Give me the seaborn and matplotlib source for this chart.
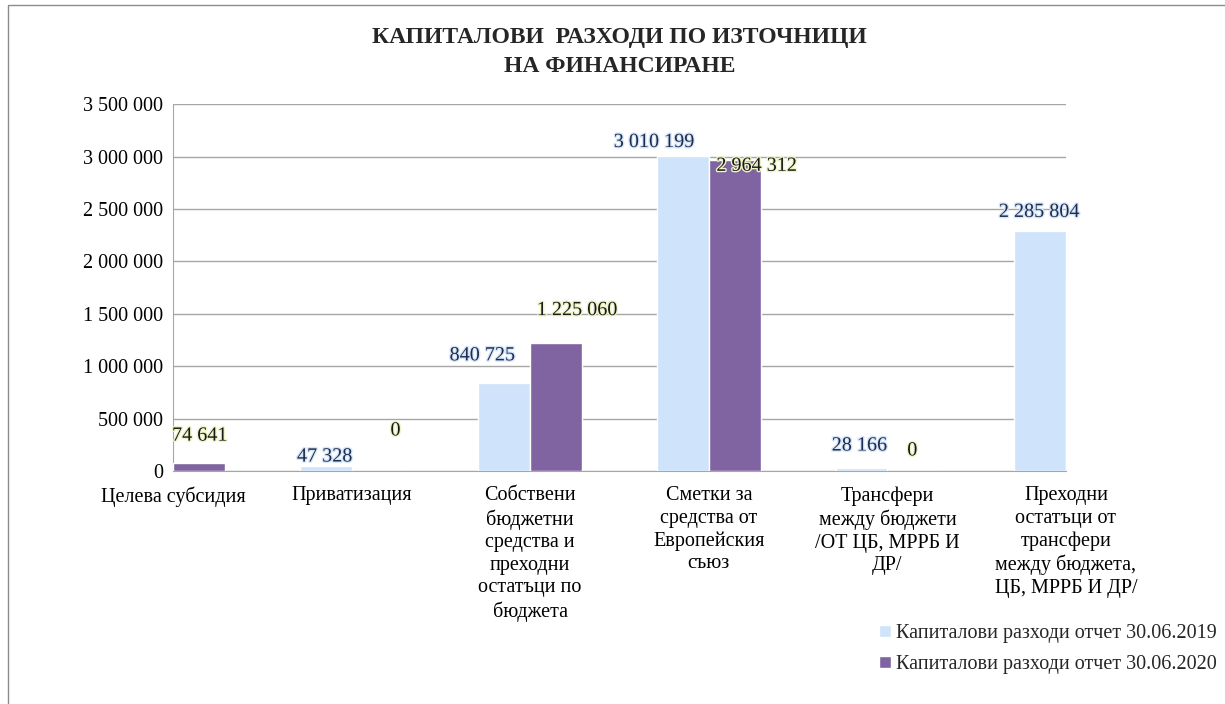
import pandas as pd
import matplotlib.pyplot as plt
import matplotlib.patheffects as pe
from matplotlib.patches import Rectangle
from matplotlib.ticker import FuncFormatter
import seaborn as sns

# Данни
categories = ['Целева субсидия', 'Приватизация',
              'Собствени\nбюджетни\nсредства и\nпреходни\nостатъци по\nбюджета',
              'Сметки за\nсредства от\nЕвропейския\nсъюз',
              'Трансфери\nмежду бюджети\n/ОТ ЦБ, МРРБ И\nДР/',
              'Преходни\nостатъци от\nтрансфери\nмежду бюджета,\nЦБ, МРРБ И ДР/']
series = ['Капиталови разходи отчет 30.06.2019', 'Капиталови разходи отчет 30.06.2020']
values_2019 = [0, 47328, 840725, 3010199, 28166, 2285804]
values_2020 = [74641, 0, 1225060, 2964312, 0, 1821000]

# отместване на етикетите (в пиксели)
offs_2019 = [(0, 10), (-1, 9), (-22, 27), (-29, 13), (-2, 22), (-1, 19)]
offs_2020 = [(1, 27), (18, 40), (21, 32), (22, -6), (-1, 20), (0, 10)]

df = pd.DataFrame({
    'cat': categories * 2,
    'serie': [series[0]] * 6 + [series[1]] * 6,
    'val': values_2019 + values_2020,
})

sns.set_style('white')
plt.rcParams['font.family'] = ['Liberation Serif', 'DejaVu Serif']

fig = plt.figure(figsize=(12.25, 7.04), dpi=100)
ax = fig.add_axes([0.1412, 0.331, 0.7290, 0.521])

sns.barplot(data=df, x='cat', y='val', hue='serie', hue_order=series,
            palette=['#CFE3FB', '#8064A2'], width=0.58, saturation=1,
            ax=ax, zorder=3)

ax.set_xlim(0, 5)
ax.set_ylim(0, 3500000)
ax.set_yticks(range(0, 3500001, 500000))
ax.yaxis.set_major_formatter(FuncFormatter(lambda v, p: f'{int(v):,}'.replace(',', ' ')))
ax.yaxis.grid(True, color='#A6A6A6', linewidth=1, zorder=0)
ax.set_axisbelow(True)
for s in ['top', 'right']:
    ax.spines[s].set_visible(False)
for s in ['left', 'bottom']:
    ax.spines[s].set_color('#A6A6A6')
ax.tick_params(axis='both', colors='#A6A6A6', length=5, width=1,
               labelcolor='black', labelsize=14.5)
ax.tick_params(axis='y', direction='out', pad=2)
ax.tick_params(axis='x', direction='out', pad=6)
ax.set_xlabel('')
ax.set_ylabel('')
for t in ax.get_xticklabels():
    t.set_linespacing(1.25)
    t.set_verticalalignment('top')

# етикети на стойностите
styles = [('#1F2D4D', '#D6E6FA', offs_2019), ('#1A1A1A', '#EEF4C4', offs_2020)]
for cont, (tc, gc, offs) in zip(ax.containers, styles):
    for bar, (dx, dy) in zip(cont, offs):
        v = bar.get_height()
        ax.annotate(f'{int(v):,}'.replace(',', ' '),
                    xy=(bar.get_x() + bar.get_width() / 2, v),
                    xytext=(dx, dy), textcoords='offset pixels',
                    ha='center', va='center', fontsize=14.5, color=tc,
                    path_effects=[pe.withStroke(linewidth=2, foreground=gc)],
                    zorder=5)

fig.text(0.506, 0.926, 'КАПИТАЛОВИ  РАЗХОДИ ПО ИЗТОЧНИЦИ\nНА ФИНАНСИРАНЕ',
         ha='center', va='center', fontsize=17, fontweight='bold', linespacing=1.45)

sns.move_legend(ax, loc='center left', bbox_to_anchor=(0.703, 0.078),
                bbox_transform=fig.transFigure, frameon=False, title=None,
                fontsize=14.5, handlelength=0.6, handleheight=0.6,
                handletextpad=0.25, labelspacing=0.6)

fig.patches.append(Rectangle((0.0065, -0.01), 1.1, 1.003, transform=fig.transFigure,
                             fill=False, edgecolor='#8C8C8C', linewidth=1))

fig.savefig('out.png', dpi=100)
